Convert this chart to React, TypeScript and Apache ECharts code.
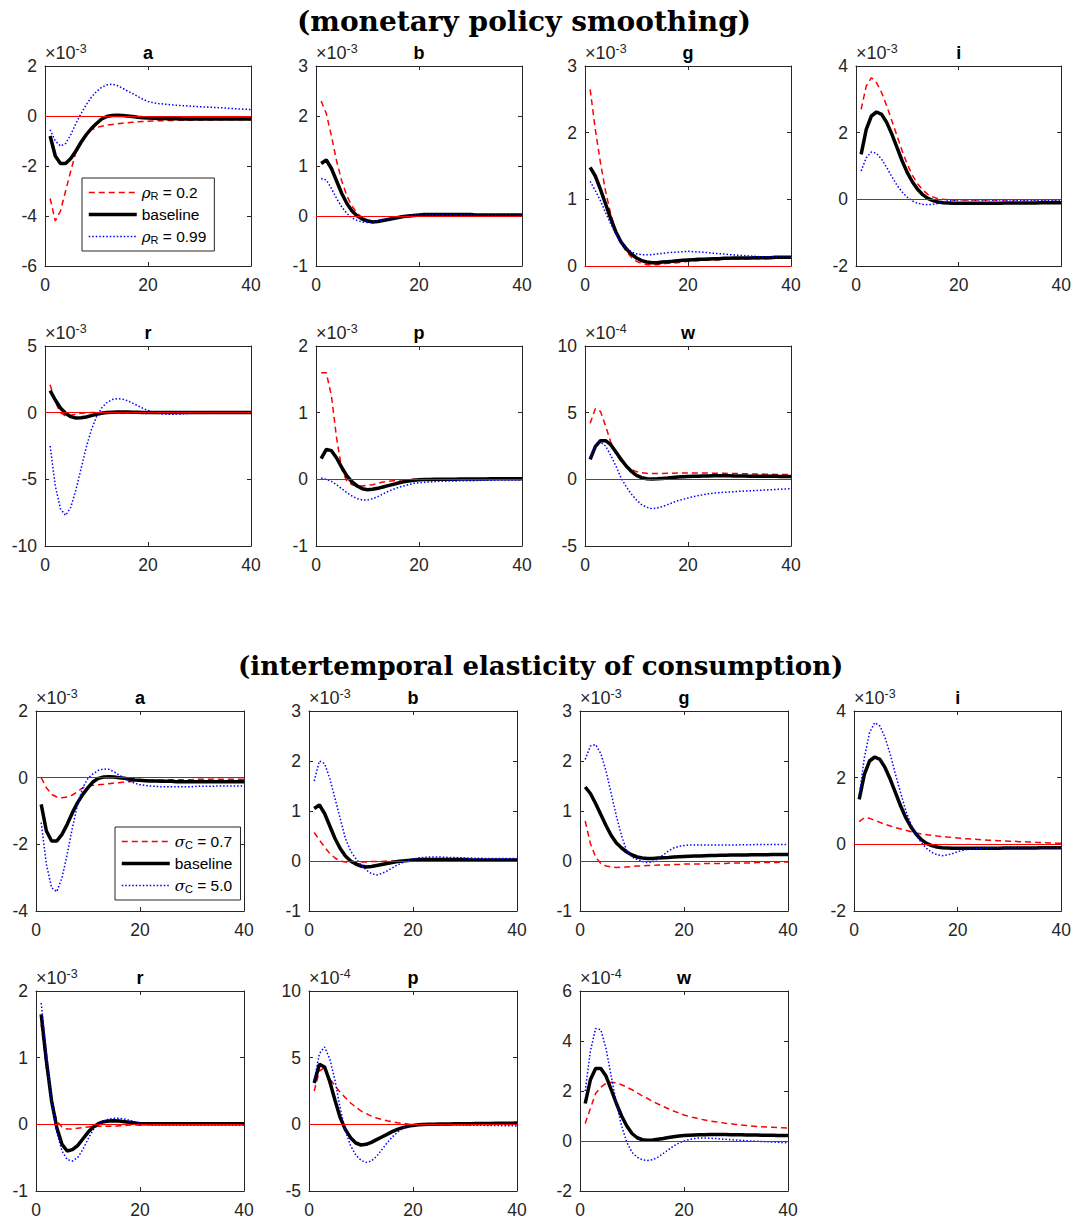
import React, { useEffect, useRef } from "react";
import * as echarts from "echarts";

// ---------------- data (values in the units shown on each axis) ----------------
const PERIODS = [1, 2, 3, 4, 5, 6, 7, 8, 9, 10, 11, 12, 13, 14, 15, 16, 17, 18, 19, 20,
  21, 22, 23, 24, 25, 26, 27, 28, 29, 30, 31, 32, 33, 34, 35, 36, 37, 38, 39, 40];

// baseline responses (shared by both experiments)
const BASE_A = [-0.8, -1.6, -1.9, -1.9, -1.7, -1.4, -1.05, -0.75, -0.5, -0.3,
  -0.12, -0.02, 0.02, 0.03, 0.02, 0.0, -0.02, -0.05, -0.07, -0.08,
  -0.09, -0.1, -0.1, -0.11, -0.11, -0.11, -0.12, -0.12, -0.12, -0.12,
  -0.12, -0.12, -0.12, -0.12, -0.12, -0.12, -0.12, -0.12, -0.12, -0.12];
const BASE_B = [1.05, 1.12, 0.95, 0.7, 0.45, 0.25, 0.1, 0.0, -0.06, -0.1,
  -0.12, -0.11, -0.09, -0.07, -0.05, -0.03, -0.01, 0.0, 0.01, 0.02,
  0.03, 0.03, 0.03, 0.03, 0.03, 0.03, 0.03, 0.03, 0.03, 0.03,
  0.02, 0.02, 0.02, 0.02, 0.02, 0.02, 0.02, 0.02, 0.02, 0.02];
const BASE_G = [1.48, 1.35, 1.15, 0.93, 0.71, 0.51, 0.36, 0.26, 0.18, 0.12,
  0.08, 0.06, 0.05, 0.05, 0.06, 0.065, 0.07, 0.08, 0.085, 0.09,
  0.095, 0.1, 0.1, 0.105, 0.11, 0.11, 0.115, 0.115, 0.12, 0.12,
  0.12, 0.12, 0.125, 0.125, 0.125, 0.125, 0.13, 0.13, 0.13, 0.13];
const BASE_I = [1.35, 2.1, 2.5, 2.62, 2.55, 2.3, 1.95, 1.55, 1.15, 0.8,
  0.52, 0.3, 0.14, 0.03, -0.04, -0.08, -0.1, -0.11, -0.12, -0.12,
  -0.12, -0.12, -0.12, -0.12, -0.12, -0.12, -0.12, -0.12, -0.11, -0.11,
  -0.11, -0.11, -0.11, -0.11, -0.11, -0.1, -0.1, -0.1, -0.1, -0.1];
const BASE_R = [1.65, 0.95, 0.35, -0.05, -0.3, -0.4, -0.38, -0.32, -0.22, -0.12,
  -0.04, 0.01, 0.04, 0.05, 0.055, 0.05, 0.04, 0.03, 0.02, 0.01,
  0.01, 0.01, 0.01, 0.01, 0.01, 0.01, 0.01, 0.01, 0.01, 0.01,
  0.01, 0.01, 0.01, 0.01, 0.01, 0.01, 0.01, 0.01, 0.01, 0.01];
const BASE_P_E3 = [0.31, 0.45, 0.43, 0.32, 0.18, 0.05, -0.04, -0.1, -0.14, -0.155,
  -0.15, -0.135, -0.115, -0.095, -0.075, -0.055, -0.038, -0.025, -0.015, -0.008,
  -0.004, -0.002, 0.0, 0.001, 0.002, 0.003, 0.003, 0.004, 0.004, 0.005,
  0.005, 0.006, 0.006, 0.007, 0.007, 0.008, 0.008, 0.009, 0.009, 0.01];
const BASE_P_E4 = [3.1, 4.5, 4.3, 3.2, 1.8, 0.5, -0.4, -1.0, -1.4, -1.55,
  -1.5, -1.35, -1.15, -0.95, -0.75, -0.55, -0.38, -0.25, -0.15, -0.08,
  -0.04, -0.02, 0.0, 0.01, 0.02, 0.03, 0.03, 0.04, 0.04, 0.05,
  0.05, 0.06, 0.06, 0.07, 0.07, 0.08, 0.08, 0.09, 0.09, 0.1];
const BASE_W = [1.5, 2.45, 2.9, 2.9, 2.6, 2.05, 1.5, 1.0, 0.6, 0.3,
  0.13, 0.05, 0.03, 0.04, 0.07, 0.1, 0.14, 0.17, 0.2, 0.22,
  0.23, 0.24, 0.25, 0.25, 0.26, 0.26, 0.26, 0.26, 0.25, 0.25,
  0.25, 0.24, 0.24, 0.24, 0.23, 0.23, 0.23, 0.22, 0.22, 0.22];

// monetary policy smoothing: rho_R = 0.2
const RHO_LOW_A = [-3.3, -4.2, -3.8, -3.0, -2.2, -1.45, -1.0, -0.72, -0.55, -0.46,
  -0.41, -0.37, -0.34, -0.31, -0.29, -0.27, -0.25, -0.23, -0.22, -0.21,
  -0.2, -0.19, -0.19, -0.18, -0.18, -0.17, -0.17, -0.17, -0.16, -0.16,
  -0.16, -0.16, -0.16, -0.15, -0.15, -0.15, -0.15, -0.15, -0.15, -0.15];
const RHO_LOW_B = [2.3, 2.05, 1.6, 1.1, 0.7, 0.4, 0.2, 0.05, -0.03, -0.08,
  -0.1, -0.1, -0.08, -0.06, -0.04, -0.02, 0.0, 0.01, 0.02, 0.02,
  0.02, 0.02, 0.02, 0.02, 0.02, 0.02, 0.02, 0.02, 0.02, 0.02,
  0.01, 0.01, 0.01, 0.01, 0.01, 0.01, 0.01, 0.01, 0.01, 0.01];
const RHO_LOW_G = [2.65, 2.05, 1.55, 1.12, 0.78, 0.52, 0.34, 0.22, 0.13, 0.07,
  0.04, 0.02, 0.02, 0.02, 0.03, 0.04, 0.045, 0.05, 0.06, 0.07,
  0.075, 0.08, 0.085, 0.09, 0.09, 0.095, 0.1, 0.1, 0.1, 0.1,
  0.105, 0.11, 0.11, 0.11, 0.11, 0.115, 0.115, 0.12, 0.12, 0.12];
const RHO_LOW_I = [2.7, 3.4, 3.65, 3.5, 3.2, 2.8, 2.35, 1.9, 1.45, 1.05,
  0.72, 0.47, 0.28, 0.15, 0.07, 0.02, 0.0, -0.01, -0.02, -0.02,
  -0.02, -0.02, -0.02, -0.02, -0.02, -0.02, -0.02, -0.02, -0.02, -0.02,
  -0.01, -0.01, -0.01, -0.01, -0.01, -0.01, -0.01, -0.01, -0.01, -0.01];
const RHO_LOW_R = [2.1, 0.8, 0.0, -0.25, -0.2, -0.12, -0.05, -0.01, 0.01, 0.02,
  0.02, 0.02, 0.01, 0.01, 0.0, 0.0, 0.0, 0.0, 0.0, 0.0,
  0.0, 0.0, 0.0, 0.0, 0.0, 0.0, 0.0, 0.0, 0.0, 0.0,
  0.0, 0.0, 0.0, 0.0, 0.0, 0.0, 0.0, 0.0, 0.0, 0.0];
const RHO_LOW_P = [1.6, 1.6, 1.25, 0.62, 0.15, -0.03, -0.08, -0.1, -0.1, -0.09,
  -0.08, -0.06, -0.04, -0.03, -0.02, -0.01, -0.01, -0.01, 0.0, 0.0,
  0.0, 0.0, 0.0, 0.0, 0.0, 0.0, 0.0, 0.0, 0.0, 0.0,
  0.0, 0.0, 0.0, 0.0, 0.0, 0.0, 0.0, 0.0, 0.0, 0.0];
const RHO_LOW_W = [4.2, 5.3, 5.1, 4.0, 2.8, 1.9, 1.35, 1.0, 0.75, 0.58,
  0.5, 0.45, 0.43, 0.43, 0.44, 0.45, 0.46, 0.47, 0.48, 0.48,
  0.48, 0.48, 0.47, 0.47, 0.46, 0.46, 0.45, 0.44, 0.44, 0.43,
  0.42, 0.41, 0.4, 0.4, 0.39, 0.38, 0.37, 0.37, 0.36, 0.35];

// monetary policy smoothing: rho_R = 0.99
const RHO_HIGH_A = [-0.55, -1.0, -1.2, -1.1, -0.75, -0.3, 0.1, 0.45, 0.75, 0.98,
  1.15, 1.24, 1.27, 1.22, 1.12, 1.0, 0.9, 0.78, 0.67, 0.58,
  0.53, 0.5, 0.48, 0.46, 0.44, 0.42, 0.41, 0.4, 0.38, 0.37,
  0.36, 0.35, 0.34, 0.33, 0.32, 0.3, 0.29, 0.28, 0.27, 0.26];
const RHO_HIGH_B = [0.75, 0.72, 0.55, 0.35, 0.18, 0.05, -0.04, -0.09, -0.12, -0.13,
  -0.12, -0.1, -0.08, -0.05, -0.03, -0.01, 0.0, 0.01, 0.02, 0.02,
  0.02, 0.02, 0.02, 0.02, 0.02, 0.02, 0.02, 0.02, 0.02, 0.02,
  0.01, 0.01, 0.01, 0.01, 0.01, 0.01, 0.01, 0.01, 0.01, 0.01];
const RHO_HIGH_G = [1.27, 1.13, 0.98, 0.8, 0.63, 0.48, 0.36, 0.27, 0.21, 0.18,
  0.17, 0.17, 0.17, 0.18, 0.19, 0.2, 0.205, 0.21, 0.215, 0.22,
  0.215, 0.21, 0.205, 0.2, 0.19, 0.185, 0.18, 0.17, 0.165, 0.16,
  0.155, 0.15, 0.145, 0.14, 0.14, 0.135, 0.135, 0.13, 0.13, 0.13];
const RHO_HIGH_I = [0.85, 1.25, 1.42, 1.38, 1.2, 0.95, 0.68, 0.42, 0.22, 0.06,
  -0.05, -0.12, -0.15, -0.16, -0.15, -0.12, -0.08, -0.05, -0.03, -0.01,
  -0.01, -0.01, -0.02, -0.02, -0.02, -0.02, -0.02, -0.02, -0.02, -0.02,
  -0.03, -0.03, -0.03, -0.03, -0.03, -0.03, -0.03, -0.03, -0.03, -0.03];
const RHO_HIGH_R = [-2.5, -5.5, -7.2, -7.7, -7.1, -5.8, -4.2, -2.6, -1.3, -0.3,
  0.35, 0.75, 0.98, 1.05, 1.02, 0.9, 0.72, 0.52, 0.33, 0.17,
  0.04, -0.05, -0.1, -0.12, -0.12, -0.1, -0.08, -0.06, -0.04, -0.02,
  -0.01, 0.0, 0.01, 0.01, 0.01, 0.01, 0.01, 0.01, 0.01, 0.01];
const RHO_HIGH_P = [0.02, 0.0, -0.03, -0.08, -0.14, -0.2, -0.25, -0.29, -0.31, -0.31,
  -0.29, -0.26, -0.22, -0.18, -0.15, -0.12, -0.1, -0.08, -0.06, -0.05,
  -0.045, -0.04, -0.035, -0.03, -0.03, -0.025, -0.025, -0.02, -0.02, -0.02,
  -0.02, -0.015, -0.015, -0.015, -0.01, -0.01, -0.01, -0.01, -0.01, -0.01];
const RHO_HIGH_W = [1.6, 2.5, 2.8, 2.5, 1.8, 1.0, 0.1, -0.55, -1.1, -1.55,
  -1.9, -2.1, -2.2, -2.15, -2.05, -1.9, -1.75, -1.6, -1.5, -1.4,
  -1.3, -1.22, -1.15, -1.08, -1.03, -1.0, -0.97, -0.95, -0.92, -0.9,
  -0.88, -0.86, -0.84, -0.82, -0.8, -0.78, -0.76, -0.74, -0.72, -0.7];

// intertemporal elasticity: sigma_C = 0.7
const SIG_LOW_A = [0.0, -0.3, -0.5, -0.58, -0.6, -0.58, -0.52, -0.42, -0.3, -0.25,
  -0.23, -0.21, -0.2, -0.18, -0.16, -0.15, -0.13, -0.12, -0.1, -0.09,
  -0.08, -0.08, -0.07, -0.07, -0.07, -0.06, -0.06, -0.06, -0.06, -0.06,
  -0.05, -0.05, -0.05, -0.05, -0.05, -0.05, -0.05, -0.05, -0.05, -0.05];
const SIG_LOW_B = [0.57, 0.42, 0.28, 0.15, 0.06, 0.0, -0.02, -0.03, -0.03, -0.02,
  -0.02, -0.01, -0.01, -0.01, 0.0, 0.0, 0.0, 0.0, 0.0, 0.0,
  0.0, 0.0, 0.0, 0.0, 0.0, 0.0, 0.0, 0.0, 0.0, 0.0,
  0.0, 0.0, 0.0, 0.0, 0.0, 0.0, 0.0, 0.0, 0.0, 0.0];
const SIG_LOW_G = [0.8, 0.35, 0.08, -0.05, -0.1, -0.12, -0.13, -0.12, -0.12, -0.11,
  -0.1, -0.1, -0.09, -0.09, -0.08, -0.08, -0.08, -0.07, -0.07, -0.06,
  -0.06, -0.06, -0.06, -0.05, -0.05, -0.05, -0.05, -0.05, -0.04, -0.04,
  -0.04, -0.04, -0.04, -0.03, -0.03, -0.03, -0.03, -0.03, -0.02, -0.02];
const SIG_LOW_I = [0.68, 0.8, 0.78, 0.72, 0.66, 0.6, 0.55, 0.5, 0.46, 0.42,
  0.38, 0.34, 0.31, 0.29, 0.27, 0.25, 0.235, 0.22, 0.205, 0.19,
  0.175, 0.165, 0.155, 0.145, 0.135, 0.125, 0.12, 0.11, 0.1, 0.095,
  0.09, 0.08, 0.075, 0.07, 0.06, 0.055, 0.05, 0.04, 0.035, 0.03];
const SIG_LOW_R = [1.5, 0.85, 0.35, 0.05, -0.04, -0.07, -0.07, -0.06, -0.05, -0.04,
  -0.03, -0.03, -0.03, -0.03, -0.03, -0.02, -0.02, -0.01, -0.01, -0.01,
  0.0, 0.0, 0.0, 0.0, 0.0, 0.0, 0.0, 0.0, 0.0, 0.0,
  0.0, 0.0, 0.0, 0.0, 0.0, 0.0, 0.0, 0.0, 0.0, 0.0];
const SIG_LOW_P = [2.5, 4.0, 4.25, 3.4, 2.9, 2.4, 2.0, 1.6, 1.3, 1.0,
  0.8, 0.62, 0.48, 0.37, 0.27, 0.19, 0.12, 0.07, 0.03, 0.0,
  -0.02, -0.03, -0.03, -0.03, -0.03, -0.03, -0.02, -0.02, -0.02, -0.02,
  -0.02, -0.02, -0.02, -0.02, -0.02, -0.02, -0.02, -0.02, -0.02, -0.02];
const SIG_LOW_W = [0.7, 1.3, 1.9, 2.15, 2.3, 2.35, 2.33, 2.25, 2.15, 2.05,
  1.93, 1.8, 1.7, 1.58, 1.48, 1.38, 1.29, 1.2, 1.12, 1.04,
  0.98, 0.93, 0.88, 0.84, 0.8, 0.77, 0.74, 0.71, 0.69, 0.66,
  0.64, 0.62, 0.6, 0.58, 0.57, 0.56, 0.55, 0.54, 0.53, 0.52];

// intertemporal elasticity: sigma_C = 5.0
const SIG_HIGH_A = [-1.35, -2.6, -3.3, -3.42, -3.0, -2.3, -1.5, -0.8, -0.3, -0.02,
  0.12, 0.22, 0.26, 0.25, 0.18, 0.08, -0.02, -0.1, -0.17, -0.21,
  -0.23, -0.25, -0.26, -0.27, -0.27, -0.27, -0.27, -0.27, -0.27, -0.27,
  -0.26, -0.26, -0.26, -0.26, -0.25, -0.25, -0.25, -0.25, -0.25, -0.25];
const SIG_HIGH_B = [1.6, 2.0, 1.95, 1.65, 1.25, 0.85, 0.45, 0.2, 0.05, -0.08,
  -0.18, -0.25, -0.28, -0.25, -0.2, -0.14, -0.08, -0.03, 0.01, 0.04,
  0.06, 0.07, 0.08, 0.08, 0.08, 0.075, 0.07, 0.07, 0.065, 0.06,
  0.06, 0.055, 0.055, 0.05, 0.05, 0.05, 0.05, 0.05, 0.05, 0.05];
const SIG_HIGH_G = [2.03, 2.3, 2.33, 2.15, 1.8, 1.35, 0.9, 0.5, 0.2, 0.08,
  0.03, -0.01, -0.03, -0.02, 0.05, 0.12, 0.2, 0.26, 0.29, 0.31,
  0.32, 0.32, 0.32, 0.32, 0.32, 0.32, 0.32, 0.32, 0.32, 0.32,
  0.325, 0.325, 0.325, 0.33, 0.33, 0.33, 0.33, 0.33, 0.33, 0.33];
const SIG_HIGH_I = [1.45, 2.6, 3.35, 3.65, 3.55, 3.2, 2.7, 2.1, 1.55, 1.0,
  0.6, 0.28, 0.05, -0.12, -0.24, -0.31, -0.34, -0.32, -0.28, -0.22,
  -0.18, -0.15, -0.13, -0.12, -0.11, -0.1, -0.1, -0.1, -0.1, -0.1,
  -0.1, -0.1, -0.1, -0.1, -0.1, -0.1, -0.1, -0.1, -0.1, -0.1];
const SIG_HIGH_R = [1.82, 1.05, 0.35, -0.12, -0.4, -0.53, -0.55, -0.5, -0.38, -0.22,
  -0.08, 0.0, 0.05, 0.08, 0.09, 0.09, 0.08, 0.06, 0.04, 0.02,
  0.0, -0.01, -0.01, -0.01, -0.01, -0.01, -0.01, -0.01, -0.01, -0.01,
  -0.01, -0.01, -0.01, -0.01, -0.01, -0.01, -0.01, -0.01, -0.01, -0.01];
const SIG_HIGH_P = [3.3, 5.3, 5.8, 4.9, 3.3, 1.2, -0.5, -1.6, -2.3, -2.7,
  -2.85, -2.75, -2.4, -1.9, -1.4, -0.95, -0.6, -0.3, -0.12, -0.03,
  0.0, 0.02, 0.01, 0.0, 0.0, -0.01, -0.02, -0.03, -0.04, -0.05,
  -0.06, -0.07, -0.07, -0.08, -0.08, -0.09, -0.1, -0.1, -0.11, -0.12];
const SIG_HIGH_W = [2.0, 3.6, 4.5, 4.45, 3.7, 2.6, 1.5, 0.6, -0.05, -0.45,
  -0.65, -0.75, -0.78, -0.75, -0.65, -0.5, -0.35, -0.2, -0.08, 0.0,
  0.06, 0.1, 0.12, 0.12, 0.11, 0.1, 0.08, 0.07, 0.05, 0.04,
  0.03, 0.01, 0.0, -0.01, -0.02, -0.03, -0.04, -0.05, -0.06, -0.07];

// panel titles, exponents and y-axis ticks
const PANEL_TITLES = ["a", "b", "g", "i", "r", "p", "w"];
const TOP_EXPONENTS = ["-3", "-3", "-3", "-3", "-3", "-3", "-4"];
const BOTTOM_EXPONENTS = ["-3", "-3", "-3", "-3", "-3", "-4", "-4"];
const TOP_Y_MIN = [-6, -1, 0, -2, -10, -1, -5];
const TOP_Y_MAX = [2, 3, 3, 4, 5, 2, 10];
const TOP_Y_STEP = [2, 1, 1, 2, 5, 1, 5];
const BOTTOM_Y_MIN = [-4, -1, -1, -2, -1, -5, -2];
const BOTTOM_Y_MAX = [2, 3, 3, 4, 2, 10, 6];
const BOTTOM_Y_STEP = [2, 1, 1, 2, 1, 5, 2];
const X_TICKS = { min: 0, max: 40, step: 20 };

const TOP_LOW = [RHO_LOW_A, RHO_LOW_B, RHO_LOW_G, RHO_LOW_I, RHO_LOW_R, RHO_LOW_P, RHO_LOW_W];
const TOP_BASE = [BASE_A, BASE_B, BASE_G, BASE_I, BASE_R, BASE_P_E3, BASE_W];
const TOP_HIGH = [RHO_HIGH_A, RHO_HIGH_B, RHO_HIGH_G, RHO_HIGH_I, RHO_HIGH_R, RHO_HIGH_P, RHO_HIGH_W];
const BOTTOM_LOW = [SIG_LOW_A, SIG_LOW_B, SIG_LOW_G, SIG_LOW_I, SIG_LOW_R, SIG_LOW_P, SIG_LOW_W];
const BOTTOM_BASE = [BASE_A, BASE_B, BASE_G, BASE_I, BASE_R, BASE_P_E4, BASE_W];
const BOTTOM_HIGH = [SIG_HIGH_A, SIG_HIGH_B, SIG_HIGH_G, SIG_HIGH_I, SIG_HIGH_R, SIG_HIGH_P, SIG_HIGH_W];

const TOP_NAMES = ["ρR = 0.2", "baseline", "ρR = 0.99"];
const BOTTOM_NAMES = ["σC = 0.7", "baseline", "σC = 5.0"];
const BLOCK_TITLES = ["(monetary policy smoothing)", "(intertemporal elasticity of consumption)"];

// ---------------- layout / style ----------------
const FONT = "'Liberation Sans', Arial, Helvetica, sans-serif";
const SERIF = "'DejaVu Serif', serif";
const AX = "#262626";
const TOP_LAYOUT = { lefts: [45, 316, 585, 856], tops: [66, 346], width: 206, height: 200 };
const BOTTOM_LAYOUT = { lefts: [36, 309, 580, 854], tops: [711, 991], width: 208, height: 200 };

function pairs(vals: number[]) {
  return vals.map((v, i) => [PERIODS[i], v]);
}

function buildOption() {
  const grid: any[] = [];
  const xAxis: any[] = [];
  const yAxis: any[] = [];
  const series: any[] = [];

  const blocks = [
    { layout: TOP_LAYOUT, exps: TOP_EXPONENTS, mins: TOP_Y_MIN, maxs: TOP_Y_MAX, steps: TOP_Y_STEP, low: TOP_LOW, base: TOP_BASE, high: TOP_HIGH, names: TOP_NAMES },
    { layout: BOTTOM_LAYOUT, exps: BOTTOM_EXPONENTS, mins: BOTTOM_Y_MIN, maxs: BOTTOM_Y_MAX, steps: BOTTOM_Y_STEP, low: BOTTOM_LOW, base: BOTTOM_BASE, high: BOTTOM_HIGH, names: BOTTOM_NAMES },
  ];

  const axisLine = { show: true, onZero: false, lineStyle: { color: AX, width: 1 } };
  const axisTick = { show: true, inside: true, length: 4, lineStyle: { color: AX, width: 1 } };
  const axisLabel = { show: true, color: AX, fontSize: 17.5, fontFamily: FONT };

  blocks.forEach((b) => {
    PANEL_TITLES.forEach((title, k) => {
      const g = grid.length;
      const row = k < 4 ? 0 : 1;
      const col = k % 4;
      grid.push({ left: b.layout.lefts[col], top: b.layout.tops[row], width: b.layout.width, height: b.layout.height });
      xAxis.push({
        gridIndex: g, type: "value", position: "bottom", min: X_TICKS.min, max: X_TICKS.max, interval: X_TICKS.step,
        axisLine, axisTick, axisLabel: { ...axisLabel, margin: 10 }, splitLine: { show: false },
      });
      xAxis.push({
        gridIndex: g, type: "value", position: "top", min: X_TICKS.min, max: X_TICKS.max, interval: X_TICKS.step,
        axisLine, axisTick, axisLabel: { show: false }, splitLine: { show: false },
        name: title, nameLocation: "middle", nameGap: 4,
        nameTextStyle: { fontWeight: "bold", fontSize: 18, color: "#000", fontFamily: FONT },
      });
      yAxis.push({
        gridIndex: g, type: "value", position: "left", min: b.mins[k], max: b.maxs[k], interval: b.steps[k],
        axisLine, axisTick, axisLabel: { ...axisLabel, margin: 8 }, splitLine: { show: false },
        name: `{m|×10}{e|${b.exps[k]}}`, nameLocation: "end", nameGap: 3,
        nameTextStyle: {
          align: "left", verticalAlign: "bottom", color: AX, fontFamily: FONT, fontSize: 18,
          rich: {
            m: { fontSize: 18, color: AX, fontFamily: FONT, lineHeight: 21 },
            e: { fontSize: 12.5, color: AX, fontFamily: FONT, verticalAlign: "top", lineHeight: 12 },
          },
        },
      });
      yAxis.push({
        gridIndex: g, type: "value", position: "right", min: b.mins[k], max: b.maxs[k], interval: b.steps[k],
        axisLine, axisTick, axisLabel: { show: false }, splitLine: { show: false },
      });
      const xi = 2 * g;
      const yi = 2 * g;
      series.push({
        type: "line", name: b.names[0], xAxisIndex: xi, yAxisIndex: yi, data: pairs(b.low[k]),
        symbol: "none", silent: true, lineStyle: { color: "#ff0000", width: 1.5, type: [6, 4] },
        itemStyle: { color: "#ff0000" },
        markLine: {
          silent: true, symbol: ["none", "none"], label: { show: false },
          lineStyle: { color: "#ff0000", width: 1, type: "solid" }, data: [{ yAxis: 0 }],
        },
      });
      series.push({
        type: "line", name: b.names[1], xAxisIndex: xi, yAxisIndex: yi, data: pairs(b.base[k]),
        symbol: "none", silent: true, lineStyle: { color: "#000000", width: 3.5, type: "solid" },
        itemStyle: { color: "#000000" },
      });
      series.push({
        type: "line", name: b.names[2], xAxisIndex: xi, yAxisIndex: yi, data: pairs(b.high[k]),
        symbol: "none", silent: true, lineStyle: { color: "#0000ff", width: 1.5, type: [1.5, 2] },
        itemStyle: { color: "#0000ff" },
      });
    });
  });

  const legendRich = {
    g: { fontSize: 15, color: "#000", fontFamily: SERIF, fontStyle: "italic", lineHeight: 17 },
    s: { fontSize: 11, color: "#000", fontFamily: FONT, verticalAlign: "bottom", lineHeight: 12 },
  };
  const legendFormatter = (name: string) => {
    if (name.startsWith("ρR")) return "{g|ρ}{s|R}" + name.slice(2);
    if (name.startsWith("σC")) return "{g|σ}{s|C}" + name.slice(2);
    return name;
  };
  const legendBase = {
    orient: "vertical", itemWidth: 48, itemHeight: 14, itemGap: 5, padding: [6, 8, 6, 5],
    borderColor: AX, borderWidth: 1, backgroundColor: "#fff", selectedMode: false,
    formatter: legendFormatter,
    itemStyle: { opacity: 0, borderWidth: 0 },
    lineStyle: { width: "inherit", type: "inherit", color: "inherit" },
    textStyle: { fontSize: 15.5, lineHeight: 17, color: "#000", fontFamily: FONT, rich: legendRich },
  };

  return {
    animation: false,
    backgroundColor: "#ffffff",
    textStyle: { fontFamily: FONT },
    title: [
      { text: BLOCK_TITLES[0], left: 292, top: 2, textStyle: { fontFamily: SERIF, fontWeight: "bold", fontSize: 28, color: "#000" } },
      { text: BLOCK_TITLES[1], left: 233, top: 648, textStyle: { fontFamily: SERIF, fontWeight: "bold", fontSize: 26, color: "#000" } },
    ],
    legend: [
      { ...legendBase, data: TOP_NAMES, left: 82, top: 178 },
      { ...legendBase, data: BOTTOM_NAMES, left: 115, top: 827 },
    ],
    grid, xAxis, yAxis, series,
  };
}

export default function App() {
  const ref = useRef<HTMLDivElement | null>(null);
  useEffect(() => {
    if (!ref.current) return;
    const chart = echarts.init(ref.current, null, { renderer: "svg", width: 1074, height: 1222 });
    chart.setOption(buildOption() as any);
    return () => chart.dispose();
  }, []);
  return <div ref={ref} style={{ position: "absolute", left: 0, top: 0, width: 1074, height: 1222, background: "#fff" }} />;
}
